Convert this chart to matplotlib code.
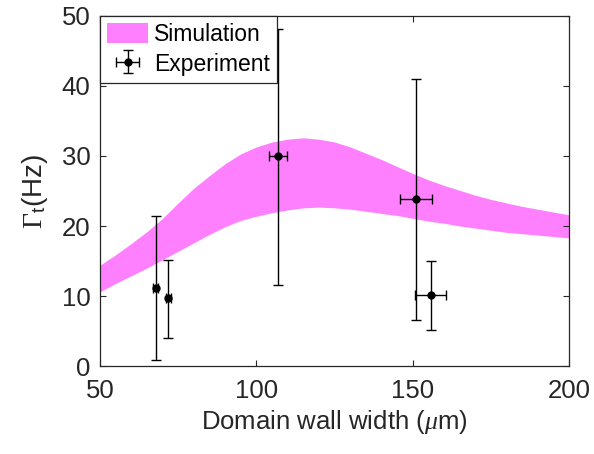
import matplotlib
matplotlib.use("Agg")
import matplotlib.pyplot as plt
import numpy as np

plt.rcParams['font.family'] = ['Liberation Sans', 'DejaVu Sans']
plt.rcParams['mathtext.fontset'] = 'custom'
plt.rcParams['mathtext.rm'] = 'Liberation Serif'
plt.rcParams['mathtext.it'] = 'Liberation Serif:italic'
plt.rcParams['mathtext.sf'] = 'Liberation Sans'

# Simulation band
sim_x = [50, 55, 60, 65, 70, 75, 80, 85, 90, 95, 100, 105, 110, 115, 120, 125,
         130, 135, 140, 145, 150, 155, 160, 165, 170, 175, 180, 185, 190, 195, 200]
sim_upper = [14.4, 15.9, 17.5, 19.2, 21.1, 23.3, 25.4, 27.2, 28.9, 30.3, 31.3, 32.0,
             32.4, 32.6, 32.4, 32.0, 31.3, 30.4, 29.5, 28.5, 27.5, 26.6, 25.8, 25.1,
             24.4, 23.8, 23.3, 22.8, 22.4, 22.0, 21.6]
sim_lower = [10.6, 11.8, 12.9, 14.0, 15.2, 16.4, 17.6, 18.8, 19.9, 20.8, 21.4, 21.9,
             22.3, 22.6, 22.7, 22.6, 22.4, 22.1, 21.8, 21.5, 21.1, 20.7, 20.4, 20.0,
             19.7, 19.4, 19.1, 18.9, 18.7, 18.5, 18.3]

# Experiment
exp_x = [67.8, 71.8, 106.8, 151.0, 155.8]
exp_y = [11.2, 9.7, 30.0, 23.8, 10.1]
exp_yerr_low = [10.3, 5.7, 18.4, 17.2, 4.9]
exp_yerr_high = [10.3, 5.5, 18.2, 17.2, 4.9]
exp_xerr = [0.8, 0.8, 2.9, 5.1, 5.0]

fig = plt.figure(figsize=(5.94, 4.54), dpi=100)
ax = fig.add_axes([0.1684, 0.1938, 0.7896, 0.771])

ax.fill_between(sim_x, sim_lower, sim_upper, color='#FF80FF', linewidth=0,
                label='Simulation')
ax.errorbar(exp_x, exp_y, yerr=[exp_yerr_low, exp_yerr_high], xerr=exp_xerr,
            fmt='o', color='black', markersize=5, elinewidth=1, capsize=3.5,
            capthick=1, label='Experiment')

ax.set_xlim(50, 200)
ax.set_ylim(0, 50)
ax.set_xticks([50, 100, 150, 200])
ax.set_yticks([0, 10, 20, 30, 40, 50])
ax.tick_params(direction='in', top=True, right=True, labelsize=18.5,
               colors='#262626', length=4, width=0.8)
ax.tick_params(axis='x', pad=9)
ax.tick_params(axis='y', pad=7)
for s in ax.spines.values():
    s.set_color('#262626')
    s.set_linewidth(0.9)

ax.set_xlabel(r'Domain wall width ($\mu$m)', fontsize=18.5, color='#262626',
              labelpad=4)
ax.set_ylabel(r'$\Gamma_{\mathsf{t}}$(Hz)', fontsize=20, color='#262626',
              labelpad=8)

leg = ax.legend(loc='upper left', bbox_to_anchor=(0, 1), borderaxespad=0,
                fancybox=False, edgecolor='#262626', framealpha=1,
                fontsize=16.5, handlelength=1.8, handleheight=1.0,
                handletextpad=0.25, borderpad=0.3, labelspacing=0.3)
leg.get_frame().set_linewidth(0.9)

fig.savefig('out.png', dpi=100)
